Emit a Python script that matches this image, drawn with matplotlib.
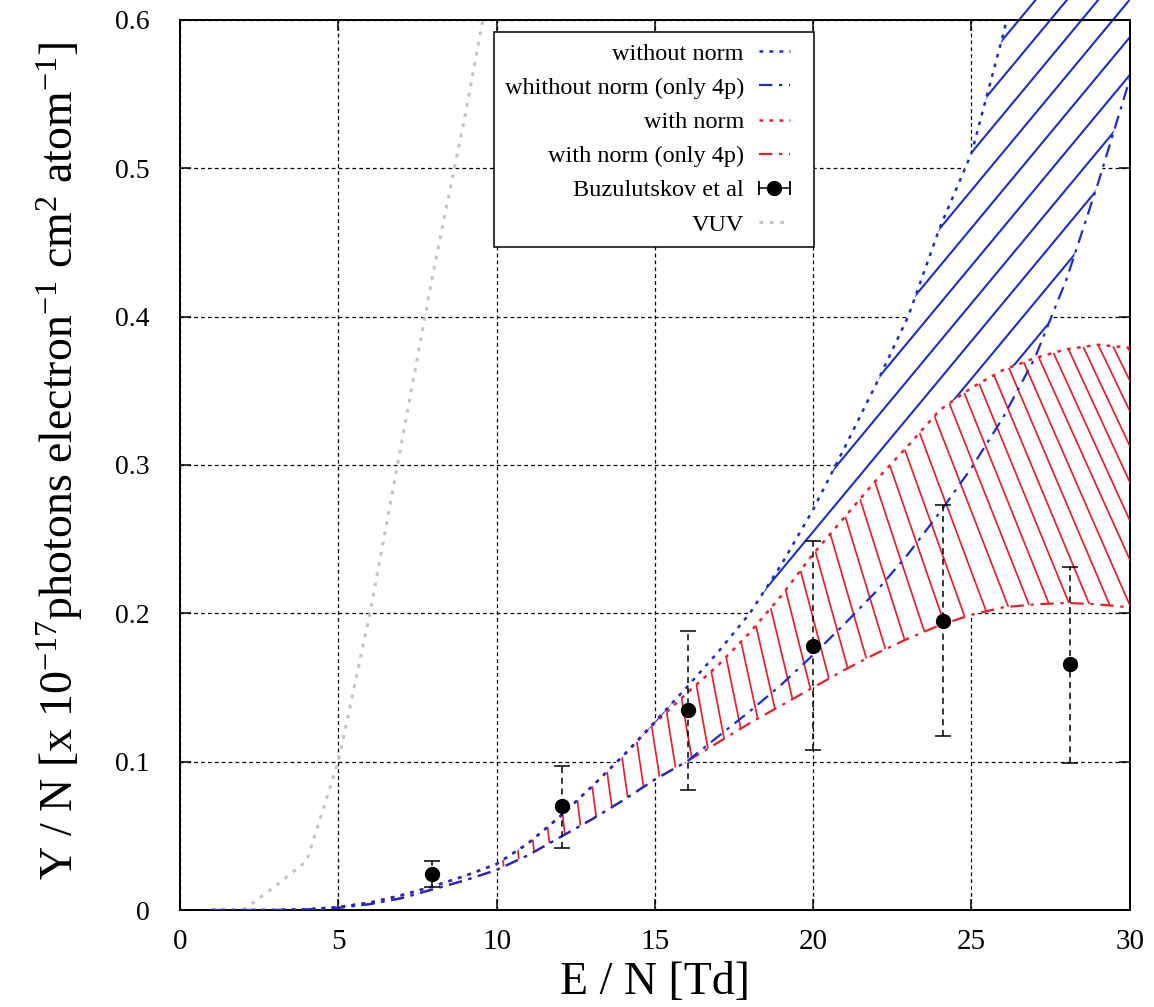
import matplotlib
matplotlib.use('Agg')
import matplotlib.pyplot as plt
import numpy as np
from matplotlib.collections import LineCollection
from matplotlib.lines import Line2D
from matplotlib.legend_handler import HandlerLine2D, HandlerTuple

plt.rcParams['font.family'] = ['Liberation Serif', 'DejaVu Serif']
plt.rcParams['mathtext.fontset'] = 'custom'
plt.rcParams['mathtext.rm'] = 'Liberation Serif'
plt.rcParams['mathtext.it'] = 'Liberation Serif:italic'

# E/N grid (Td)
E = np.arange(1, 31)

# curves
without_norm = [0, 0, 0, 0.0005, 0.002, 0.005, 0.01, 0.016, 0.023, 0.031,
                0.045, 0.063, 0.083, 0.104, 0.127, 0.15, 0.174, 0.2, 0.233, 0.27,
                0.312, 0.355, 0.4, 0.46, 0.51, 0.59, 0.68, 0.78, 0.88, 0.98]
without_norm_4p = [0, 0, 0, 0.0004, 0.0015, 0.004, 0.008, 0.014, 0.02, 0.027,
                   0.037, 0.049, 0.061, 0.074, 0.088, 0.1, 0.117, 0.134, 0.152, 0.172,
                   0.193, 0.215, 0.24, 0.268, 0.298, 0.332, 0.372, 0.425, 0.49, 0.56]
with_norm = [0, 0, 0, 0.0005, 0.002, 0.005, 0.01, 0.016, 0.023, 0.031,
             0.045, 0.063, 0.083, 0.104, 0.126, 0.146, 0.165, 0.187, 0.212, 0.24,
             0.265, 0.29, 0.313, 0.337, 0.352, 0.364, 0.372, 0.378, 0.381, 0.379]
with_norm_4p = [0, 0, 0, 0.0004, 0.0015, 0.004, 0.008, 0.014, 0.02, 0.027,
                0.037, 0.049, 0.061, 0.074, 0.088, 0.1, 0.113, 0.126, 0.138, 0.15,
                0.162, 0.173, 0.183, 0.192, 0.199, 0.204, 0.206, 0.207, 0.206, 0.204]

# VUV curve
E_vuv = [2, 3, 4, 5, 6, 7, 8, 9, 10]
vuv = [0, 0.016, 0.033, 0.1, 0.2, 0.315, 0.43, 0.535, 0.65]

# Buzulutskov et al data
E_exp = [7.95, 12.05, 16.05, 20.0, 24.1, 28.1]
y_exp = [0.024, 0.070, 0.135, 0.178, 0.195, 0.166]
y_lo = [0.0155, 0.042, 0.081, 0.108, 0.117, 0.099]
y_hi = [0.033, 0.097, 0.188, 0.249, 0.273, 0.231]

blue = '#1a2ecc'
red = '#e8202a'
grey = '#c4c4c4'

fig = plt.figure(figsize=(11.54, 10.07), dpi=100)
ax = fig.add_axes([0.156, 0.0963, 0.823, 0.884])
ax.set_xlim(0, 30)
ax.set_ylim(0, 0.6)


def band(lo, hi, z):
    b = ax.fill_between(E, lo, hi, facecolor='white', edgecolor='none', zorder=z)
    return b.get_paths()[0]


# blue band: parallel rising lines
clip_b = band(without_norm_4p, without_norm, 2)
s, step = 0.0257, 0.0254
xs = np.array([0.0, 30.0])
segs = [np.column_stack([xs, o + s * xs]) for o in np.arange(-0.259 - 40 * step, 0.6, step)]
lc = LineCollection(segs, colors=blue, linewidths=1.5, zorder=2.1)
lc.set_clip_path(clip_b, ax.transData)
ax.add_collection(lc)

# red band drawn over it: steep falling lines, flatter towards high E/N
clip_r = band(with_norm_4p, with_norm, 2.5)
x0 = np.arange(10.2, 30.01, 0.47)
up = np.interp(x0, E, with_norm)
gap = up - np.interp(x0, E, with_norm_4p)
steep = np.interp(x0, [12, 15, 18, 21, 24, 27, 30], [9, 7, 5, 3.8, 2.8, 2.2, 2.0])
x1 = x0 + gap * (890 / 0.6) / steep / (950 / 30)
segs = [[(a, b), (c, d)] for a, b, c, d in zip(x0, up, x1, np.interp(x1, E, with_norm_4p))]
lc = LineCollection(segs, colors=red, linewidths=1.25, zorder=2.6)
lc.set_clip_path(clip_r, ax.transData)
ax.add_collection(lc)

l1, = ax.plot(E, without_norm, color=blue, lw=1.8, ls=(0, (1.5, 2.5)), zorder=4,
              label='without norm')
l2, = ax.plot(E, without_norm_4p, color=blue, lw=1.6, ls=(0, (6, 3, 1.5, 3)), zorder=4,
              label='whithout norm (only 4p)')
l3, = ax.plot(E, with_norm, color=red, lw=1.8, ls=(0, (1.5, 2.5)), zorder=3,
              label='with norm')
l4, = ax.plot(E, with_norm_4p, color=red, lw=1.6, ls=(0, (6, 3, 1.5, 3)), zorder=3,
              label='with norm (only 4p)')
l6, = ax.plot(E_vuv, vuv, color=grey, lw=2.2, ls=(0, (1.2, 2.2)), zorder=3, label='VUV')

yerr = [np.array(y_exp) - np.array(y_lo), np.array(y_hi) - np.array(y_exp)]
eb = ax.errorbar(E_exp, y_exp, yerr=yerr, fmt='o', color='k', ms=10, capsize=6,
                 elinewidth=1.1, capthick=1.1, zorder=5)
eb[2][0].set_linestyle((0, (4, 3)))

# grid and frame
ax.grid(True, color='k', lw=0.9, ls=(0, (3, 2.5)))
ax.set_axisbelow(True)
for sp in ax.spines.values():
    sp.set_linewidth(1.4)
ax.set_xticks(np.arange(0, 31, 5))
ax.set_yticks(np.arange(0, 0.61, 0.1))
ax.set_yticklabels(['0', '0.1', '0.2', '0.3', '0.4', '0.5', '0.6'])
ax.tick_params(direction='in', length=8, width=1.1, top=True, right=True)
ax.tick_params(axis='x', labelsize=21, pad=14)
ax.tick_params(axis='y', labelsize=20, pad=22)
ax.set_xlabel('E / N [Td]', fontsize=33)
ax.xaxis.set_label_coords(0.5, -0.058)
ax.set_ylabel(r'Y / N [x 10$^{-17}$photons electron$^{-1}$ cm$^{2}$ atom$^{-1}$]',
              fontsize=33)
ax.yaxis.set_label_coords(-0.1, 0.505)


class PadRight(HandlerLine2D):
    # leave some room (in points) between the sample and the frame's right edge
    def create_artists(self, legend, orig, xdescent, ydescent, width, height, fontsize, trans):
        return super().create_artists(legend, orig, xdescent, ydescent, width - 10,
                                      height, fontsize, trans)


bar = Line2D([0], [0], color='k', lw=1.1, marker='|', ms=10, mew=1.3)
dot = Line2D([0], [0], color='k', ls='none', marker='o', ms=10)
handles = [l1, l2, l3, l4, (bar, dot), l6]
labels = [h.get_label() for h in [l1, l2, l3, l4]] + ['Buzulutskov et al', 'VUV']
leg = ax.legend(handles, labels, loc='upper right', bbox_to_anchor=(0.668, 0.9865),
                borderaxespad=0, markerfirst=False, fontsize=17.5, frameon=True,
                fancybox=False, edgecolor='k', framealpha=1, handlelength=1.85,
                labelspacing=0.5, borderpad=0.45, handletextpad=0.6,
                handler_map={Line2D: PadRight(),
                             bar: PadRight(numpoints=2, marker_pad=0),
                             dot: PadRight(numpoints=1),
                             tuple: HandlerTuple(ndivide=1)})
leg.get_frame().set_linewidth(1.1)
leg.set_zorder(10)

fig.savefig('out.png', dpi=100)
